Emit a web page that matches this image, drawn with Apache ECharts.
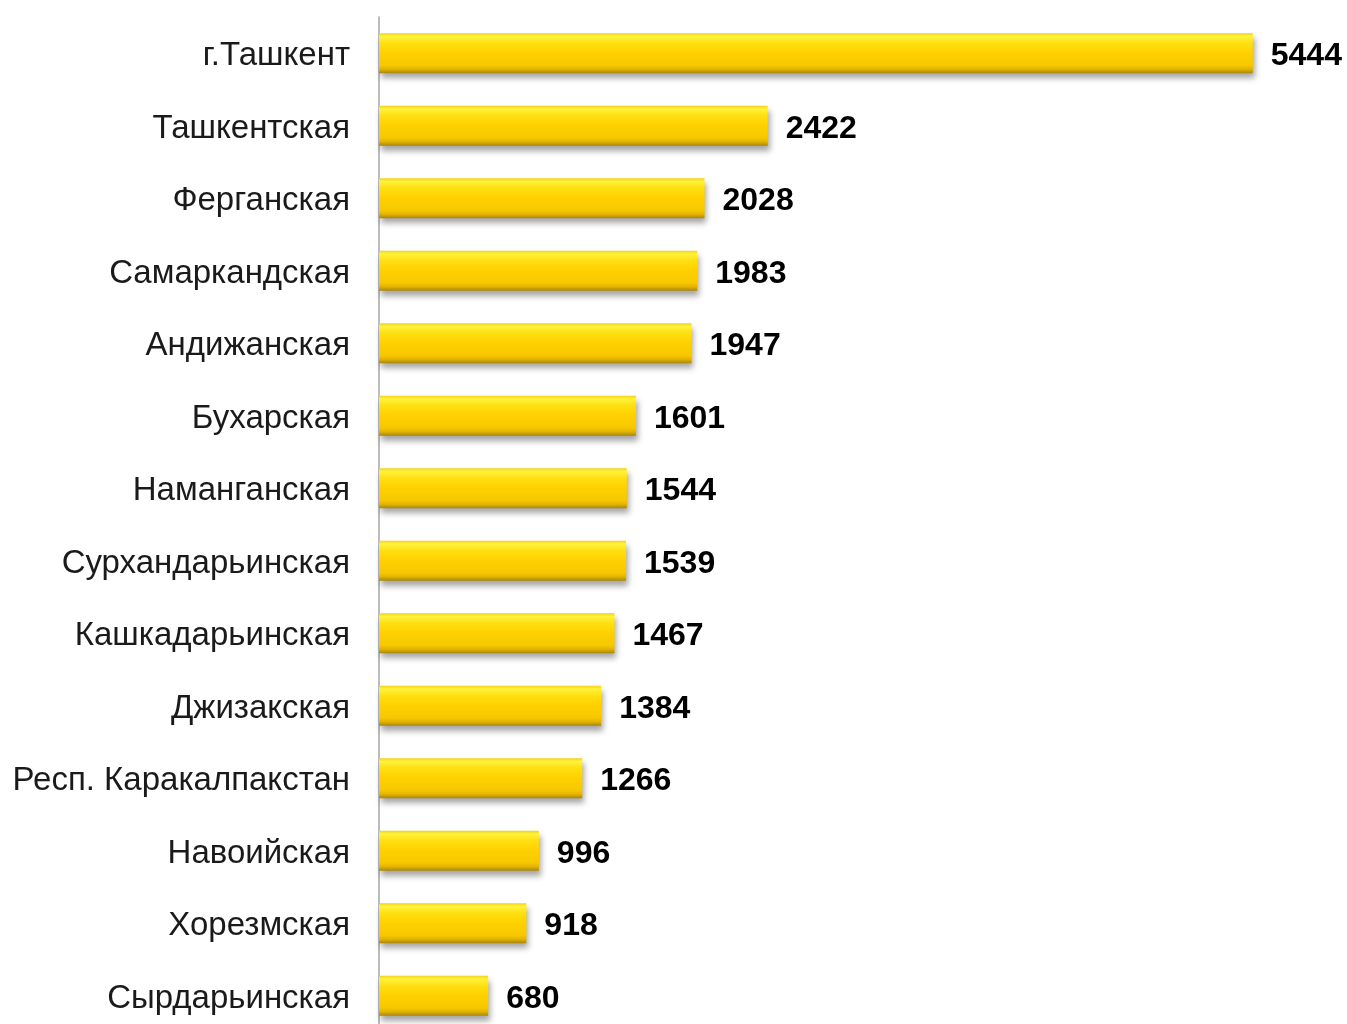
<!DOCTYPE html>
<html><head><meta charset="utf-8">
<script src="https://cdn.jsdelivr.net/npm/echarts@6/dist/echarts.min.js"></script>
<style>html,body{margin:0;padding:0;background:#fff;overflow:hidden}#c{width:1347px;height:1040px}</style>
</head><body><div id="c"></div>
<script>
const categories = ["г.Ташкент","Ташкентская","Ферганская","Самаркандская","Андижанская","Бухарская","Наманганская","Сурхандарьинская","Кашкадарьинская","Джизакская","Респ. Каракалпакстан","Навоийская","Хорезмская","Сырдарьинская"];
const values = [5444,2422,2028,1983,1947,1601,1544,1539,1467,1384,1266,996,918,680];

const chart = echarts.init(document.getElementById('c'), null, {renderer:'canvas'});
chart.setOption({
  animation:false,
  grid:{left:379, top:17, width:963, height:1015, containLabel:false},
  xAxis:{type:'value', min:0, max:6000, show:false},
  yAxis:{type:'category', data:categories, inverse:true,
    axisLine:{show:true, lineStyle:{color:'#a6a6a6', width:1.5}},
    axisTick:{show:false},
    axisLabel:{margin:29, formatter:function(v){return '{a|'+v+'}';},
      rich:{a:{fontFamily:'Liberation Sans, Arial, sans-serif', fontSize:33, color:'#1a1a1a', padding:[6,0,0,0]}}}
  },
  series:[{
    type:'bar', data:values, barWidth:40,
    itemStyle:{
      color:new echarts.graphic.LinearGradient(0,0,0,1,[
        {offset:0,color:'#f2d21a'},
        {offset:0.08,color:'#fff23c'},
        {offset:0.25,color:'#ffdf10'},
        {offset:0.5,color:'#ffd000'},
        {offset:0.8,color:'#f7c800'},
        {offset:0.9,color:'#e2b400'},
        {offset:1,color:'#a88510'}
      ]),
      shadowColor:'rgba(0,0,0,0.35)', shadowBlur:6, shadowOffsetY:5, shadowOffsetX:2
    },
    label:{show:true, position:'right', distance:18, offset:[0,3], fontFamily:'Liberation Sans, Arial, sans-serif', fontSize:32, fontWeight:'bold', color:'#000'}
  }]
});
</script></body></html>
